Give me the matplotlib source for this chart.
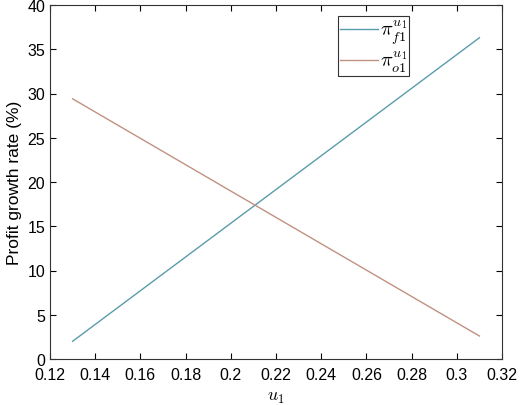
import matplotlib
matplotlib.use("Agg")
import matplotlib.pyplot as plt

u1 = [0.13, 0.31]
pi_f1 = [2.0, 36.3]
pi_o1 = [29.4, 2.6]
xticks = [0.12, 0.14, 0.16, 0.18, 0.2, 0.22, 0.24, 0.26, 0.28, 0.3, 0.32]
xticklabels = ["0.12", "0.14", "0.16", "0.18", "0.2", "0.22", "0.24", "0.26", "0.28", "0.3", "0.32"]
yticks = [0, 5, 10, 15, 20, 25, 30, 35, 40]

plt.rcParams['font.family'] = ['Liberation Sans', 'DejaVu Sans']
plt.rcParams['mathtext.fontset'] = 'cm'

fig = plt.figure(figsize=(5.2, 4.06), dpi=100)
ax = fig.add_axes([50/520, 46/406, 452/520, 354/406])
ax.plot(u1, pi_f1, color='#5a9cab', lw=1.0, label=r'$\pi_{f1}^{u_1}$')
ax.plot(u1, pi_o1, color='#c09280', lw=1.0, label=r'$\pi_{o1}^{u_1}$')
ax.set_xlim(0.12, 0.32)
ax.set_ylim(0, 40)
ax.set_xticks(xticks)
ax.set_xticklabels(xticklabels)
ax.set_yticks(yticks)
ax.tick_params(direction='in', top=True, right=True, labelsize=11.5, length=4, width=0.8)
ax.tick_params(axis='x', pad=6)
ax.tick_params(axis='y', pad=3.5)
for s in ax.spines.values():
    s.set_linewidth(0.8)
    s.set_color('#333333')
ax.set_ylabel('Profit growth rate (%)', fontsize=12.5, labelpad=4)
ax.set_xlabel(r'$u_1$', fontsize=13, labelpad=4)
leg = ax.legend(loc='upper left', bbox_to_anchor=(288/452, 0.97), fontsize=14.5,
                fancybox=False, edgecolor='#333333', framealpha=1, handlelength=1.9,
                handletextpad=0.1, borderpad=0.1, labelspacing=0.15, borderaxespad=0)
leg.get_frame().set_linewidth(0.8)
fig.savefig('out.png', dpi=100)
